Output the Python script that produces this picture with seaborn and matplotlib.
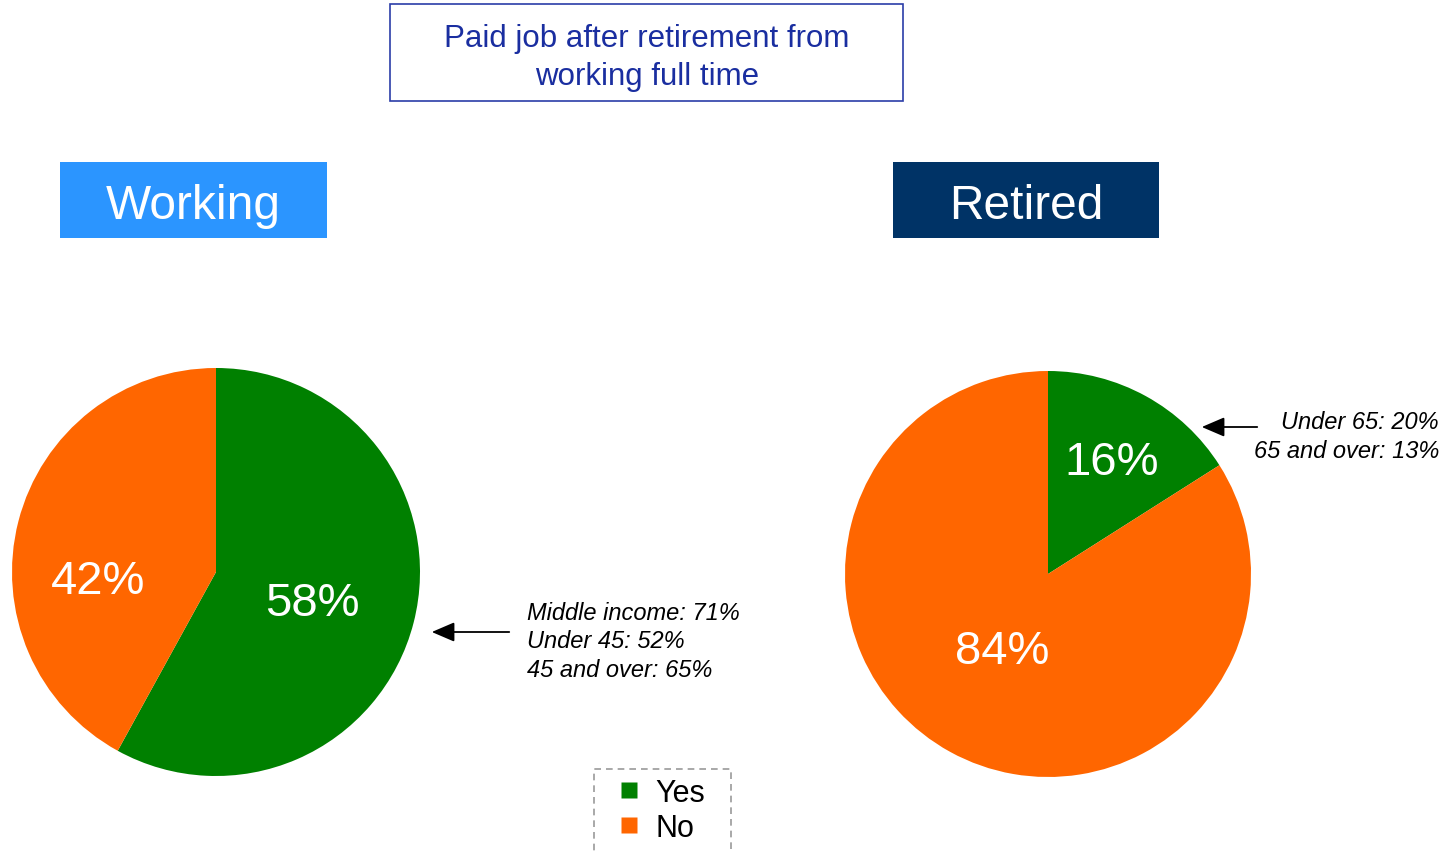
import matplotlib
matplotlib.use("Agg")
import matplotlib.pyplot as plt
import seaborn as sns
from matplotlib.patches import Rectangle, FancyArrowPatch
from matplotlib.lines import Line2D

# data
answers = ["Yes", "No"]
working_share = [58, 42]
retired_share = [16, 84]
colors = ["#008000", "#FF6600"]

chart_title = "Paid job after retirement from\nworking full time"
group_names = ["Working", "Retired"]
group_colors = ["#2B95FF", "#003366"]
working_note = "Middle income: 71%\nUnder 45: 52%\n45 and over: 65%"
retired_note = "Under 65: 20%\n65 and over: 13%"

sns.set_theme(style="white")
plt.rcParams["font.family"] = ["Liberation Sans", "DejaVu Sans"]

W, H = 1451, 854
fig = plt.figure(figsize=(W / 100, H / 100), dpi=100)


def px_axes(cx, cy, r):
    # axes square around a pie centre given in pixels (y from top)
    return fig.add_axes([(cx - r) / W, 1 - (cy + r) / H, 2 * r / W, 2 * r / H])


def draw_pie(ax, values, label_pos):
    ax.pie(values, colors=colors, startangle=90, counterclock=False,
           radius=1, wedgeprops=dict(linewidth=0))
    ax.set_xlim(-1, 1)
    ax.set_ylim(-1, 1)
    ax.set_aspect("equal")
    ax.axis("off")
    for v, (x, y) in zip(values, label_pos):
        ax.text(x, y, f"{v}%", color="white", fontsize=34,
                ha="center", va="center")


ax1 = px_axes(216, 573, 204)
draw_pie(ax1, working_share, [(0.47, -0.15), (-0.58, -0.045)])

ax2 = px_axes(1048, 575, 203)
draw_pie(ax2, retired_share, [(0.315, 0.55), (-0.227, -0.38)])

# title box
fig.patches.append(Rectangle((390 / W, 1 - 102 / H), 513 / W, 97 / H,
                             transform=fig.transFigure, fill=False,
                             edgecolor="#2B3DA8", linewidth=1.2))
fig.text(647 / W, 1 - 58 / H, chart_title, ha="center", va="center",
         fontsize=22.5, color="#1A2EA0", linespacing=1.38)

# group headers
for name, col, x0, x1 in zip(group_names, group_colors, [60, 893], [327, 1159]):
    fig.patches.append(Rectangle((x0 / W, 1 - 239 / H), (x1 - x0) / W, 76 / H,
                                 transform=fig.transFigure, facecolor=col,
                                 edgecolor="none"))
    fig.text((x0 + x1) / 2 / W, 1 - 207 / H, name, ha="center", va="center",
             fontsize=34.5, color="white")

# notes with arrows
fig.text(527 / W, 1 - 642 / H, working_note, ha="left", va="center",
         fontsize=17, style="italic", linespacing=1.28, color="black")
fig.patches.append(FancyArrowPatch(
    (512 / W, 1 - 633 / H), (429 / W, 1 - 633 / H), transform=fig.transFigure,
    arrowstyle="-|>,head_length=14,head_width=6", color="black", linewidth=1.3))

fig.text(1439 / W, 1 - 437 / H, retired_note, ha="right", va="center",
         fontsize=17, style="italic", linespacing=1.28, color="black")
fig.patches.append(FancyArrowPatch(
    (1260 / W, 1 - 428 / H), (1199 / W, 1 - 428 / H), transform=fig.transFigure,
    arrowstyle="-|>,head_length=14,head_width=6", color="black", linewidth=1.3))

# legend (a blank third row lets the dashed box run off the bottom edge)
handles = [Line2D([], [], marker="s", linestyle="", markersize=11.5,
                  markerfacecolor=c, markeredgecolor="none") for c in colors]
handles.append(Line2D([], [], linestyle=""))
leg = fig.legend(handles, answers + [" "], loc="upper left",
                 bbox_to_anchor=(594 / W, 1 - 770 / H - 0.2, 137 / W, 0.2),
                 mode="expand", fontsize=22,
                 frameon=True, fancybox=False, handlelength=1.7,
                 handletextpad=0.0, borderpad=0.3,
                 labelspacing=0.15, borderaxespad=0, labelcolor="black")
frame = leg.get_frame()
frame.set_linestyle((0, (4, 3)))
frame.set_edgecolor("#808080")
frame.set_linewidth(1.2)

fig.savefig("out.png", dpi=100)
